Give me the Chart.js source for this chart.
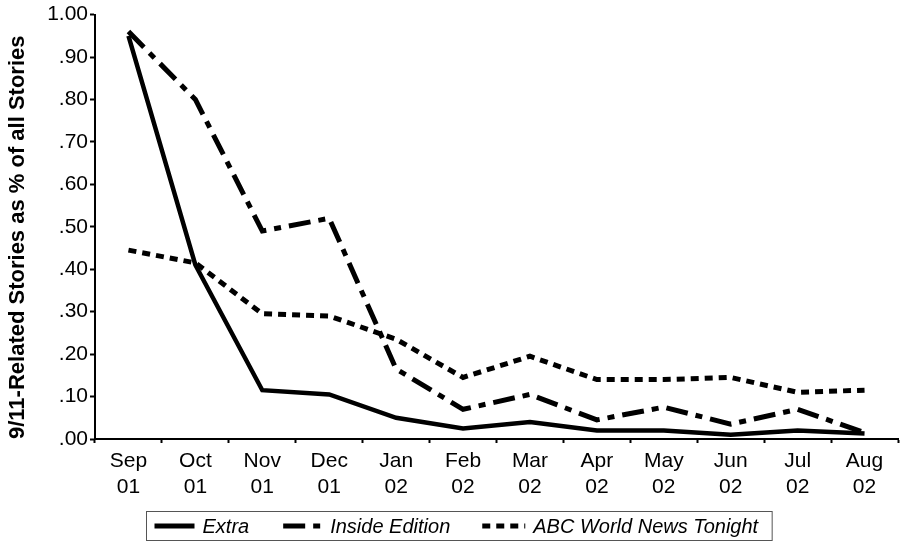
<!DOCTYPE html>
<html>
<head>
<meta charset="utf-8">
<script src="https://cdn.jsdelivr.net/npm/chart.js@4/dist/chart.umd.min.js"></script>
<style>
  html, body { margin: 0; padding: 0; background: #fff; }
  #wrap { width: 900px; height: 542px; }
</style>
</head>
<body>
<div id="wrap"><canvas id="myChart" width="900" height="542"></canvas></div>
<script>
// data
const months = [
  ["Sep", "01"], ["Oct", "01"], ["Nov", "01"], ["Dec", "01"],
  ["Jan", "02"], ["Feb", "02"], ["Mar", "02"], ["Apr", "02"],
  ["May", "02"], ["Jun", "02"], ["Jul", "02"], ["Aug", "02"]
];
const extra = [0.95, 0.41, 0.115, 0.105, 0.05, 0.025, 0.04, 0.02, 0.02, 0.01, 0.02, 0.013];
const insideEdition = [0.96, 0.80, 0.49, 0.52, 0.165, 0.07, 0.105, 0.045, 0.075, 0.035, 0.07, 0.015];
const abcNews = [0.445, 0.415, 0.295, 0.29, 0.235, 0.145, 0.195, 0.14, 0.14, 0.145, 0.11, 0.115];
const yTicks = [0, 0.1, 0.2, 0.3, 0.4, 0.5, 0.6, 0.7, 0.8, 0.9, 1.0];

const FONT = "'Liberation Sans', Arial, sans-serif";

// legend drawn in a box under the axis
const boxLegend = {
  id: "boxLegend",
  afterDraw(chart) {
    const ctx = chart.ctx;
    const sets = chart.data.datasets;
    const sampleW = [40, 39, 43];
    const gaps = [34, 32, 14];
    ctx.save();
    ctx.font = "italic 20px " + FONT;
    let total = 8;
    sets.forEach((ds, i) => {
      total += sampleW[i] + 8 + ctx.measureText(ds.label).width + gaps[i];
    });
    const left = Math.round(459 - total / 2) + 0.5;
    const top = 511.5, h = 29;
    ctx.strokeStyle = "#555";
    ctx.lineWidth = 1;
    ctx.setLineDash([]);
    ctx.strokeRect(left, top, total, h);
    let x = left + 8;
    const cy = top + h / 2;
    sets.forEach((ds, i) => {
      ctx.beginPath();
      ctx.setLineDash(ds.borderDash || []);
      ctx.lineWidth = 5;
      ctx.strokeStyle = "#000";
      ctx.moveTo(x, cy);
      ctx.lineTo(x + sampleW[i], cy);
      ctx.stroke();
      x += sampleW[i] + 8;
      ctx.setLineDash([]);
      ctx.fillStyle = "#000";
      ctx.textBaseline = "middle";
      ctx.fillText(ds.label, x, cy + 1);
      x += ctx.measureText(ds.label).width + gaps[i];
    });
    ctx.restore();
  }
};

const ctx = document.getElementById("myChart").getContext("2d");
new Chart(ctx, {
  type: "line",
  data: {
    labels: months,
    datasets: [
      {
        label: "Extra",
        data: extra,
        borderColor: "#000",
        borderWidth: 4.5,
        borderDash: [],
        pointRadius: 0,
        tension: 0
      },
      {
        label: "Inside Edition",
        data: insideEdition,
        borderColor: "#000",
        borderWidth: 5,
        borderDash: [22, 8, 7, 8],
        pointRadius: 0,
        tension: 0
      },
      {
        label: "ABC World News Tonight",
        data: abcNews,
        borderColor: "#000",
        borderWidth: 5,
        borderDash: [8, 6],
        pointRadius: 0,
        tension: 0
      }
    ]
  },
  options: {
    responsive: false,
    animation: false,
    layout: { padding: { top: 12, right: 2, bottom: 43, left: 0 } },
    plugins: {
      legend: { display: false },
      tooltip: { enabled: false }
    },
    scales: {
      x: {
        offset: true,
        grid: {
          offset: true,
          drawOnChartArea: false,
          drawTicks: true,
          tickLength: 4,
          tickWidth: 2,
          tickColor: "#000"
        },
        border: { display: true, color: "#000", width: 2 },
        ticks: {
          color: "#000",
          font: { family: FONT, size: 21, lineHeight: 26 / 21 },
          padding: 5,
          maxRotation: 0,
          autoSkip: false
        },
        afterFit(scale) { scale.height = 60; }
      },
      y: {
        min: 0,
        max: 1,
        afterBuildTicks(scale) { scale.ticks = yTicks.map(v => ({ value: v })); },
        grid: {
          drawOnChartArea: false,
          drawTicks: true,
          tickLength: 5,
          tickWidth: 2,
          tickColor: "#000"
        },
        border: { display: true, color: "#000", width: 2 },
        ticks: {
          color: "#000",
          font: { family: FONT, size: 21 },
          padding: 2,
          callback(v) {
            return Number(v).toFixed(2).replace(/^0/, "");
          }
        },
        title: {
          display: true,
          align: "start",
          text: "9/11-Related Stories as % of all Stories",
          color: "#000",
          font: { family: FONT, size: 22, weight: "bold" },
          padding: { top: 5, bottom: 0 }
        },
        afterFit(scale) { scale.width = 95; }
      }
    }
  },
  plugins: [boxLegend]
});
</script>
</body>
</html>
